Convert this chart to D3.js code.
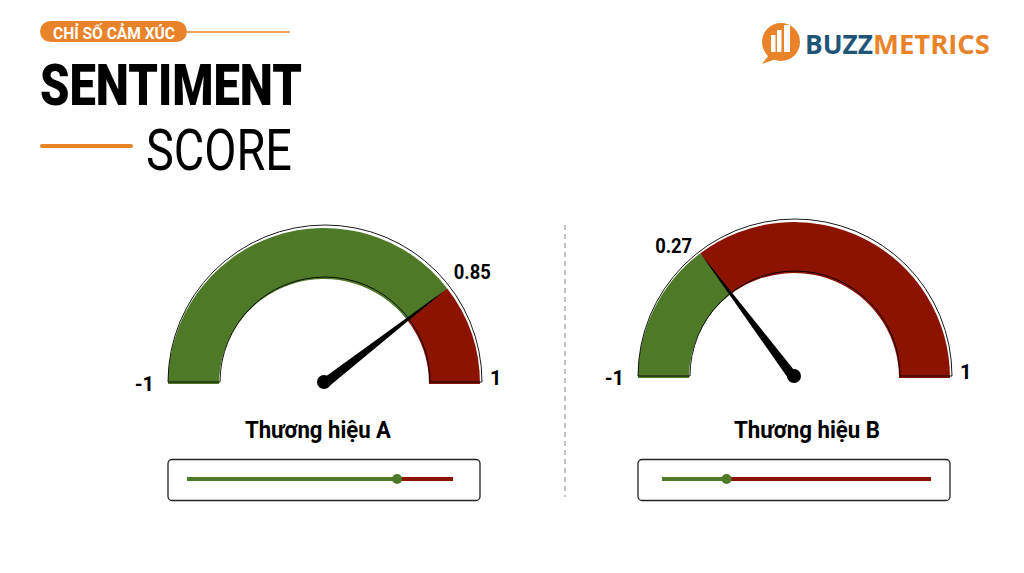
<!DOCTYPE html>
<meta charset="utf-8">
<script src="https://d3js.org/d3.v7.min.js"></script>
<style>
  body { margin: 0; background: #fff; }
  text { font-family: Roboto, "Noto Sans", sans-serif; }
</style>
<div id="my_dataviz"></div>
<script>

// data
var brands = ["Thương hiệu A", "Thương hiệu B"];
var scores = [0.85, 0.27];            // printed score labels
var gaugePos = [0.79, 0.295];         // where the split / needle sits along the arc (0 = left, 1 = right)
var sliderPos = [0.79, 0.24];         // where the dot sits on the slider bar
var endLabels = ["-1", "1"];

var width = 1024, height = 573;
var green = "#4e7a27", red = "#8c1300", orange = "#e8832a", blue = "#1f5677";

var svg = d3.select("#my_dataviz")
  .append("svg")
    .attr("width", width)
    .attr("height", height);

// ---- header ----
svg.append("rect")
    .attr("x", 40).attr("y", 21).attr("width", 147).attr("height", 21)
    .attr("rx", 10.5)
    .style("fill", orange);
svg.append("line")
    .attr("x1", 187).attr("x2", 290).attr("y1", 32).attr("y2", 32)
    .style("stroke", orange).style("stroke-width", 1.5);
svg.append("text")
    .attr("x", 53).attr("y", 38.5)
    .attr("textLength", 122).attr("lengthAdjust", "spacingAndGlyphs")
    .style("font-size", "16px").style("font-weight", 700).style("fill", "#fff")
    .text("CHỈ SỐ CẢM XÚC");

svg.append("text")
    .attr("x", 40).attr("y", 105)
    .attr("textLength", 262).attr("lengthAdjust", "spacingAndGlyphs")
    .style("font-size", "57px").style("font-weight", 900).style("fill", "#000")
    .text("SENTIMENT");

svg.append("line")
    .attr("x1", 42).attr("x2", 131).attr("y1", 146).attr("y2", 146)
    .style("stroke", orange).style("stroke-width", 4).style("stroke-linecap", "round");
svg.append("text")
    .attr("x", 146).attr("y", 170)
    .attr("textLength", 146).attr("lengthAdjust", "spacingAndGlyphs")
    .style("font-size", "57px").style("font-weight", 400).style("fill", "#000")
    .text("SCORE");

// ---- logo ----
var logo = svg.append("g");
logo.append("path")
    .attr("d", "M769,55 L762,64 L776,59 Z")
    .style("fill", orange);
logo.append("circle")
    .attr("cx", 781).attr("cy", 42).attr("r", 19)
    .style("fill", orange);
[[771, 35], [777, 30], [784, 25]].forEach(function(b, i) {
  logo.append("rect")
      .attr("x", b[0]).attr("y", b[1])
      .attr("width", i == 2 ? 6 : 4.5).attr("height", 52 - b[1])
      .style("fill", "#fff");
});
logo.append("text")
    .attr("x", 805).attr("y", 54)
    .attr("textLength", 68).attr("lengthAdjust", "spacingAndGlyphs")
    .style("font-family", "'Open Sans', sans-serif")
    .style("font-size", "27px").style("font-weight", 700).style("fill", blue)
    .text("BUZZ");
logo.append("text")
    .attr("x", 873).attr("y", 54)
    .attr("textLength", 117).attr("lengthAdjust", "spacingAndGlyphs")
    .style("font-family", "'Open Sans', sans-serif")
    .style("font-size", "27px").style("font-weight", 700).style("fill", orange)
    .text("METRICS");

// ---- divider ----
svg.append("line")
    .attr("x1", 565).attr("x2", 565).attr("y1", 225).attr("y2", 497)
    .style("stroke", "#9a9a9a").style("stroke-width", 1.2)
    .style("stroke-dasharray", "5,4");

// ---- gauges ----
var cxScale = d3.scalePoint().domain(brands).range([324, 794]);
var gaugeY = [384, 378];
var sliderPad = [[137, 129], [132, 137]];
var rOuter = 156, rInner = 105;

// 0..1 along the arc -> d3.arc angle (0 at 12 o'clock, clockwise)
var angle = d3.scaleLinear().domain([0, 1]).range([-Math.PI / 2, Math.PI / 2]);
var arc = d3.arc().innerRadius(rInner).outerRadius(rOuter);

brands.forEach(function(b, i) {
  var cx = cxScale(b), cy = gaugeY[i];
  var g = svg.append("g").attr("transform", "translate(" + cx + "," + cy + ")");
  var a = angle(gaugePos[i]);

  g.append("path")
      .attr("d", arc({startAngle: angle(0), endAngle: a}))
      .style("fill", green);
  g.append("path")
      .attr("d", arc({startAngle: a, endAngle: angle(1)}))
      .style("fill", red);

  // thin offset outline
  g.append("path")
      .attr("transform", "translate(1,-2)")
      .attr("d", d3.arc().innerRadius(rInner).outerRadius(rOuter + 1)({startAngle: angle(0), endAngle: angle(1)}))
      .style("fill", "none").style("stroke", "#000").style("stroke-width", 0.9);

  // needle
  var tx = rOuter * Math.sin(a), ty = -rOuter * Math.cos(a);
  var px = Math.cos(a) * 5, py = Math.sin(a) * 5;
  g.append("path")
      .attr("d", "M" + (-px) + "," + (-py) + " L" + tx + "," + ty + " L" + px + "," + py + " Z")
      .style("fill", "#000");
  g.append("circle")
      .attr("cx", 0).attr("cy", -2).attr("r", 7)
      .style("fill", "#000");

  // score label
  var lr = rOuter + 7;
  var right = a > 0;
  g.append("text")
      .attr("x", lr * Math.sin(a) + (right ? 1 : -4))
      .attr("y", -lr * Math.cos(a) + (right ? -5 : 5))
      .attr("text-anchor", right ? "start" : "end")
      .attr("textLength", 37).attr("lengthAdjust", "spacingAndGlyphs")
      .style("font-size", "21px").style("font-weight", 700)
      .text(d3.format(".2f")(scores[i]));

  // end labels
  g.append("text")
      .attr("x", -rOuter - 14).attr("y", 7)
      .attr("text-anchor", "end")
      .style("font-size", "20px").style("font-weight", 700)
      .text(endLabels[0]);
  g.append("text")
      .attr("x", rOuter + 10).attr("y", 1)
      .attr("text-anchor", "start")
      .style("font-size", "20px").style("font-weight", 700)
      .text(endLabels[1]);

  // brand name
  svg.append("text")
      .attr("x", cx + (i == 0 ? -6 : 13)).attr("y", 438)
      .attr("text-anchor", "middle")
      .attr("textLength", 146).attr("lengthAdjust", "spacingAndGlyphs")
      .style("font-size", "24px").style("font-weight", 700)
      .text(b);

  // slider box
  svg.append("rect")
      .attr("x", cx - 156).attr("y", 459.5).attr("width", 312).attr("height", 41)
      .attr("rx", 4)
      .style("fill", "#fff").style("stroke", "#222").style("stroke-width", 1.3);

  var sx = d3.scaleLinear().domain([0, 1]).range([cx - sliderPad[i][0], cx + sliderPad[i][1]]);
  var sy = 479;
  svg.append("line")
      .attr("x1", sx(0)).attr("x2", sx(sliderPos[i])).attr("y1", sy).attr("y2", sy)
      .style("stroke", green).style("stroke-width", 4);
  svg.append("line")
      .attr("x1", sx(sliderPos[i])).attr("x2", sx(1)).attr("y1", sy).attr("y2", sy)
      .style("stroke", red).style("stroke-width", 4);
  svg.append("circle")
      .attr("cx", sx(sliderPos[i])).attr("cy", sy).attr("r", 5)
      .style("fill", green);
});

</script>
